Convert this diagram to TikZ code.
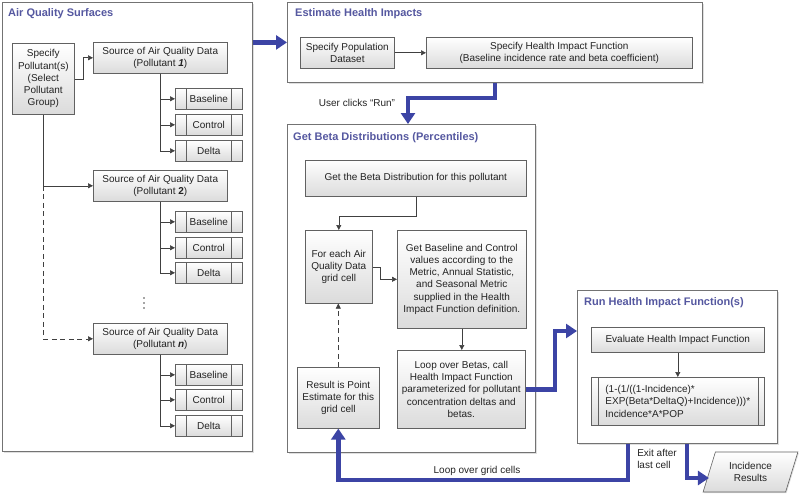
\documentclass[tikz,border=0pt]{standalone}
\usepackage{fontspec}
\setmainfont{Liberation Sans}
\usetikzlibrary{arrows.meta,shadows,shapes.geometric,calc}
\definecolor{bluearr}{RGB}{60,68,165}
\definecolor{titlec}{RGB}{85,88,160}
\definecolor{txt}{RGB}{35,35,35}
\begin{document}
\begin{tikzpicture}[x=1pt,y=-1pt,
  every node/.style={text=txt},
  panel/.style={draw=black!55, line width=0.8pt, fill=white, anchor=north west, inner sep=0pt,
    drop shadow={shadow xshift=1.3pt, shadow yshift=-1.3pt, opacity=0.25}},
  ptitle/.style={anchor=west, font=\bfseries\fontsize{11}{13}\selectfont, text=titlec, inner sep=0pt},
  box/.style={draw=black!62, line width=0.6pt, top color=white, bottom color=black!14, anchor=north west,
    align=center, inner sep=1pt, font=\fontsize{10}{12.2}\selectfont,
    drop shadow={shadow xshift=1pt, shadow yshift=-1pt, opacity=0.25}},
  subbox/.style={box, path picture={
      \draw[black!62, line width=0.6pt] ([xshift=#1]path picture bounding box.north west) -- ([xshift=#1]path picture bounding box.south west);
      \draw[black!62, line width=0.6pt] ([xshift=-#1]path picture bounding box.north east) -- ([xshift=-#1]path picture bounding box.south east);}},
  arr/.style={draw=black!75, line width=0.6pt, -{Triangle[width=5pt,length=5pt]}},
  bigarr/.style={draw=bluearr, line width=4.5pt, -{Triangle[width=14pt,length=11pt]}},
  lbl/.style={font=\fontsize{10}{11.5}\selectfont, inner sep=0pt},
  dot/.style={fill=black!70, circle, inner sep=0pt, minimum size=1.6pt}
]
\useasboundingbox (0,0) rectangle (800,495);

% ---------- Air Quality Surfaces ----------
\node[panel, minimum width=250pt, minimum height=449pt] (aqs) at (2,2) {};
\node[ptitle] (aqst) at (8,14) {Air Quality Surfaces};
\node[box, minimum width=62pt, minimum height=71pt] (sp) at (12,43) {Specify\\Pollutant(s)\\(Select\\Pollutant\\Group)};

\node[box, minimum width=134pt, minimum height=31pt] (s1) at (93,42) {Source of Air Quality Data\\(Pollutant \textbf{\textit{1}})};
\node[subbox=11pt, minimum width=67pt, minimum height=21pt] (b1) at (175,88) {Baseline};
\node[subbox=11pt, minimum width=67pt, minimum height=21pt] (c1) at (175,114) {Control};
\node[subbox=11pt, minimum width=67pt, minimum height=21pt] (d1) at (175,140) {Delta};

\node[box, minimum width=134pt, minimum height=31pt] (s2) at (93,170) {Source of Air Quality Data\\(Pollutant \textbf{2})};
\node[subbox=11pt, minimum width=67pt, minimum height=21pt] (b2) at (175,211) {Baseline};
\node[subbox=11pt, minimum width=67pt, minimum height=21pt] (c2) at (175,237) {Control};
\node[subbox=11pt, minimum width=67pt, minimum height=21pt] (d2) at (175,262) {Delta};

\node[dot] (dt1) at (144,298) {};
\node[dot] (dt2) at (144,303) {};
\node[dot] (dt3) at (144,308) {};

\node[box, minimum width=134pt, minimum height=31pt] (sn) at (93,323) {Source of Air Quality Data\\(Pollutant \textbf{\textit{n}})};
\node[subbox=11pt, minimum width=67pt, minimum height=21pt] (bn) at (175,364) {Baseline};
\node[subbox=11pt, minimum width=67pt, minimum height=21pt] (cn) at (175,389) {Control};
\node[subbox=11pt, minimum width=67pt, minimum height=21pt] (dn) at (175,415) {Delta};

\draw[arr] (sp.east) -- ++(9,0) |- (s1.west);
\foreach \s/\b/\c/\d in {s1/b1/c1/d1, s2/b2/c2/d2, sn/bn/cn/dn}{
  \draw[arr] (\s.south) |- (\b.west);
  \draw[arr] (\s.south) |- (\c.west);
  \draw[arr] (\s.south) |- (\d.west);
}
\draw[arr] (sp.south) |- (s2.west);
\draw[arr, dashed, dash pattern=on 5pt off 3.5pt] (sp.south |- s2.west) |- (sn.west);

% ---------- Estimate Health Impacts ----------
\node[panel, minimum width=415pt, minimum height=80pt] (ehi) at (287,2) {};
\node[ptitle] (ehit) at (295,14) {Estimate Health Impacts};
\node[box, minimum width=94pt, minimum height=31pt] (pop) at (300,37) {Specify Population\\Dataset};
\node[box, minimum width=266pt, minimum height=31pt] (hif) at (426,37) {Specify Health Impact Function\\(Baseline incidence rate and beta coefficient)};
\draw[arr] (pop) -- (hif);

% ---------- Get Beta Distributions ----------
\node[panel, minimum width=248pt, minimum height=328pt] (gbd) at (287,124) {};
\node[ptitle] (gbdt) at (293,138) {Get Beta Distributions (Percentiles)};
\node[box, minimum width=221pt, minimum height=36pt] (gb) at (305,160) {Get the Beta Distribution for this pollutant};
\node[box, minimum width=67pt, minimum height=73pt] (fe) at (305,230) {For each Air\\Quality Data\\grid cell};
\node[box, minimum width=129pt, minimum height=98pt] (gbc) at (397,230) {Get Baseline and Control\\values according to the\\Metric, Annual Statistic,\\and Seasonal Metric\\supplied in the Health\\Impact Function definition.};
\node[box, minimum width=128pt, minimum height=78pt] (lb) at (397,350) {Loop over Betas, call\\Health Impact Function\\parameterized for pollutant\\concentration deltas and\\betas.};
\node[box, minimum width=82pt, minimum height=61pt] (res) at (297,367) {Result is Point\\Estimate for this\\grid cell};

\draw[arr] (gb.south) -- ++(0,20) -| (fe.north);
\draw[arr] (fe.east) -- ++(8,0) |- (gbc.west);
\draw[arr] (gbc.south) -- (gbc.south |- lb.north);
\draw[arr, dashed, dash pattern=on 5pt off 3.5pt] (res.north) -- (res.north |- fe.south);

% ---------- Run Health Impact Function(s) ----------
\node[panel, minimum width=200pt, minimum height=153pt] (rhif) at (577,290) {};
\node[ptitle] (rhift) at (584,303) {Run Health Impact Function(s)};
\node[box, minimum width=173pt, minimum height=25pt] (ev) at (591,327) {Evaluate Health Impact Function};
\node[subbox=6.5pt, minimum width=173pt, minimum height=48pt, align=left] (fm) at (591,377) {(1-(1/((1-Incidence)*\\EXP(Beta*DeltaQ)+Incidence)))*\\Incidence*A*POP};
\draw[arr] (ev) -- (fm);

\node[trapezium, trapezium left angle=70, trapezium right angle=110, trapezium stretches=true,
  minimum width=95pt, minimum height=40pt, draw=black!62, line width=0.6pt, top color=white, bottom color=black!14,
  align=center, inner sep=1pt, font=\fontsize{10}{12.2}\selectfont,
  drop shadow={shadow xshift=1pt, shadow yshift=-1pt, opacity=0.25}] (ir) at (750.5,472) {Incidence\\Results};

% ---------- Blue flow arrows ----------
\coordinate (k1) at (495,98);
\coordinate (k2) at (408,98);
\coordinate (k3) at (555,331);
\coordinate (k4) at (628,480);
\coordinate (k5) at (687,478);
\draw[bigarr] (aqs.east |- ehi.west) -- (ehi.west);
\draw[bigarr] (ehi.south -| k1) |- (k2) -- (k2 |- gbd.north);
\draw[bigarr] (lb.east) -| (k3) -- (k3 -| rhif.west);
\draw[bigarr] (rhif.south -| k4) -- (k4) -| (res.south);
\draw[bigarr] (rhif.south -| k5) -- (k5) -- (k5 -| ir.west);

\node[lbl] (l1) at (357,103) {User clicks “Run”};
\node[lbl] (l2) at (477,471) {Loop over grid cells};
\node[lbl, align=left] (l3) at (657,459) {Exit after\\last cell};
\end{tikzpicture}
\end{document}
